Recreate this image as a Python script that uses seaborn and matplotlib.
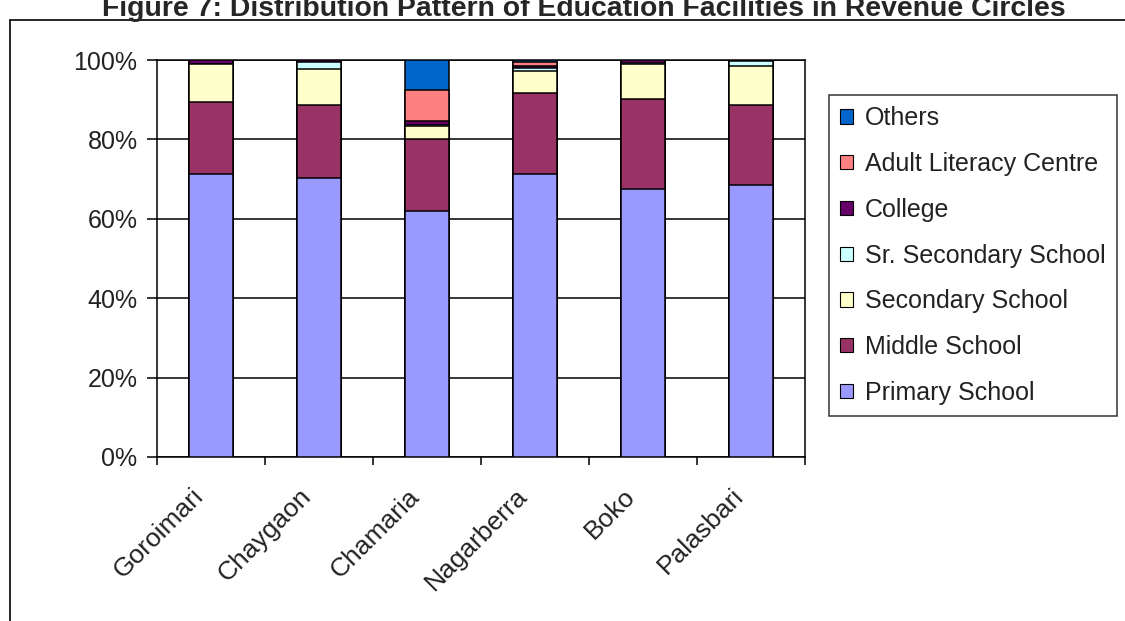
import matplotlib
matplotlib.use("Agg")
import matplotlib.pyplot as plt
import matplotlib.lines as mlines
import matplotlib.transforms as mtransforms
from matplotlib.patches import Patch
from matplotlib.ticker import PercentFormatter
import numpy as np
import pandas as pd
import seaborn as sns

circles = ["Goroimari", "Chaygaon", "Chamaria", "Nagarberra", "Boko", "Palasbari"]
facilities = ["Primary School", "Middle School", "Secondary School",
              "Sr. Secondary School", "College", "Adult Literacy Centre", "Others"]

# share of each facility type per circle (%)
primary = [71.2, 70.4, 61.9, 71.2, 67.4, 68.4]
middle = [18.3, 18.3, 18.1, 20.4, 22.7, 20.3]
secondary = [9.4, 9.0, 3.4, 5.7, 8.9, 9.8]
sr_secondary = [0.2, 1.7, 0.2, 0.8, 0.2, 1.3]
college = [0.9, 0.6, 1.1, 0.5, 0.8, 0.2]
adult_literacy = [0.0, 0.0, 7.8, 0.9, 0.0, 0.0]
others = [0.0, 0.0, 7.5, 0.5, 0.0, 0.0]

colors = ["#9999FF", "#993366", "#FFFFCC", "#CCFFFF", "#660066", "#FF8080", "#0066CC"]

df = pd.DataFrame({
    "circle": circles,
    "Primary School": primary,
    "Middle School": middle,
    "Secondary School": secondary,
    "Sr. Secondary School": sr_secondary,
    "College": college,
    "Adult Literacy Centre": adult_literacy,
    "Others": others,
})
cum = df[facilities].cumsum(axis=1)

sns.set_style("white")
plt.rcParams["font.family"] = ["Liberation Sans", "DejaVu Sans"]

fig = plt.figure(figsize=(11.25, 6.21), dpi=100)
ax = fig.add_axes([157 / 1125, 1 - 457 / 621, (805 - 157) / 1125, (457 - 60) / 621])

# draw cumulative stacks from top down so each layer shows its own slice
for name, col in reversed(list(zip(facilities, colors))):
    sns.barplot(x=df["circle"], y=cum[name], color=col, width=0.4,
                edgecolor="black", linewidth=1.1, saturation=1, ax=ax, zorder=3)

ax.set_ylim(0, 100)
ax.set_xlim(-0.5, len(circles) - 0.5)
ax.set_yticks(np.arange(0, 101, 20))
ax.yaxis.set_major_formatter(PercentFormatter(decimals=0))
ax.yaxis.grid(True, color="black", linewidth=1.1, zorder=0)
ax.set_axisbelow(True)
for s in ax.spines.values():
    s.set_color("black")
    s.set_linewidth(1.1)

ax.set_xticks(np.arange(len(circles)))
ax.set_xticklabels(circles, rotation=45, ha="right", rotation_mode="anchor", fontsize=19, color="#222222")
ax.tick_params(axis="x", length=0, pad=8)
ax.tick_params(axis="y", labelsize=18, length=7, width=1.1, pad=7, direction="out", left=True,
               colors="black", labelcolor="#222222")
ax.set_xlabel("")
ax.set_ylabel("")
# nudge the rotated labels left/down like the original
shift = mtransforms.ScaledTranslation(-20 / 100, -16 / 100, fig.dpi_scale_trans)
for lbl in ax.get_xticklabels():
    lbl.set_transform(lbl.get_transform() + shift)
# category boundary ticks on the x axis
ax.set_xticks(np.arange(-0.5, len(circles)), minor=True)
ax.tick_params(axis="x", which="minor", length=6, width=1.1, direction="out", bottom=True, color="black")

handles = [Patch(facecolor=c, edgecolor="black", linewidth=0.8, label=n)
           for n, c in zip(facilities, colors)][::-1]
leg = fig.legend(handles=handles, loc="upper left", bbox_to_anchor=(829 / 1125, 1 - 95 / 621),
                 frameon=True, fancybox=False, edgecolor="black", fontsize=18,
                 handlelength=0.5, handleheight=0.5, handletextpad=0.5,
                 labelspacing=0.87, borderpad=0.45, borderaxespad=0)
leg.get_frame().set_linewidth(1.1)
for t in leg.get_texts():
    t.set_color("#222222")

# outer chart frame, clipped by the figure edges
fig.add_artist(mlines.Line2D([10 / 1125, 10 / 1125], [0, 1 - 20 / 621], color="black", linewidth=1.2))
fig.add_artist(mlines.Line2D([10 / 1125, 1], [1 - 20 / 621, 1 - 20 / 621], color="black", linewidth=1.2))

fig.text(584 / 1125, 1 - 9 / 621, "Figure 7: Distribution Pattern of Education Facilities in Revenue Circles",
         ha="center", va="center", fontsize=20.4, fontweight="bold")

fig.savefig("out.png", dpi=100)
